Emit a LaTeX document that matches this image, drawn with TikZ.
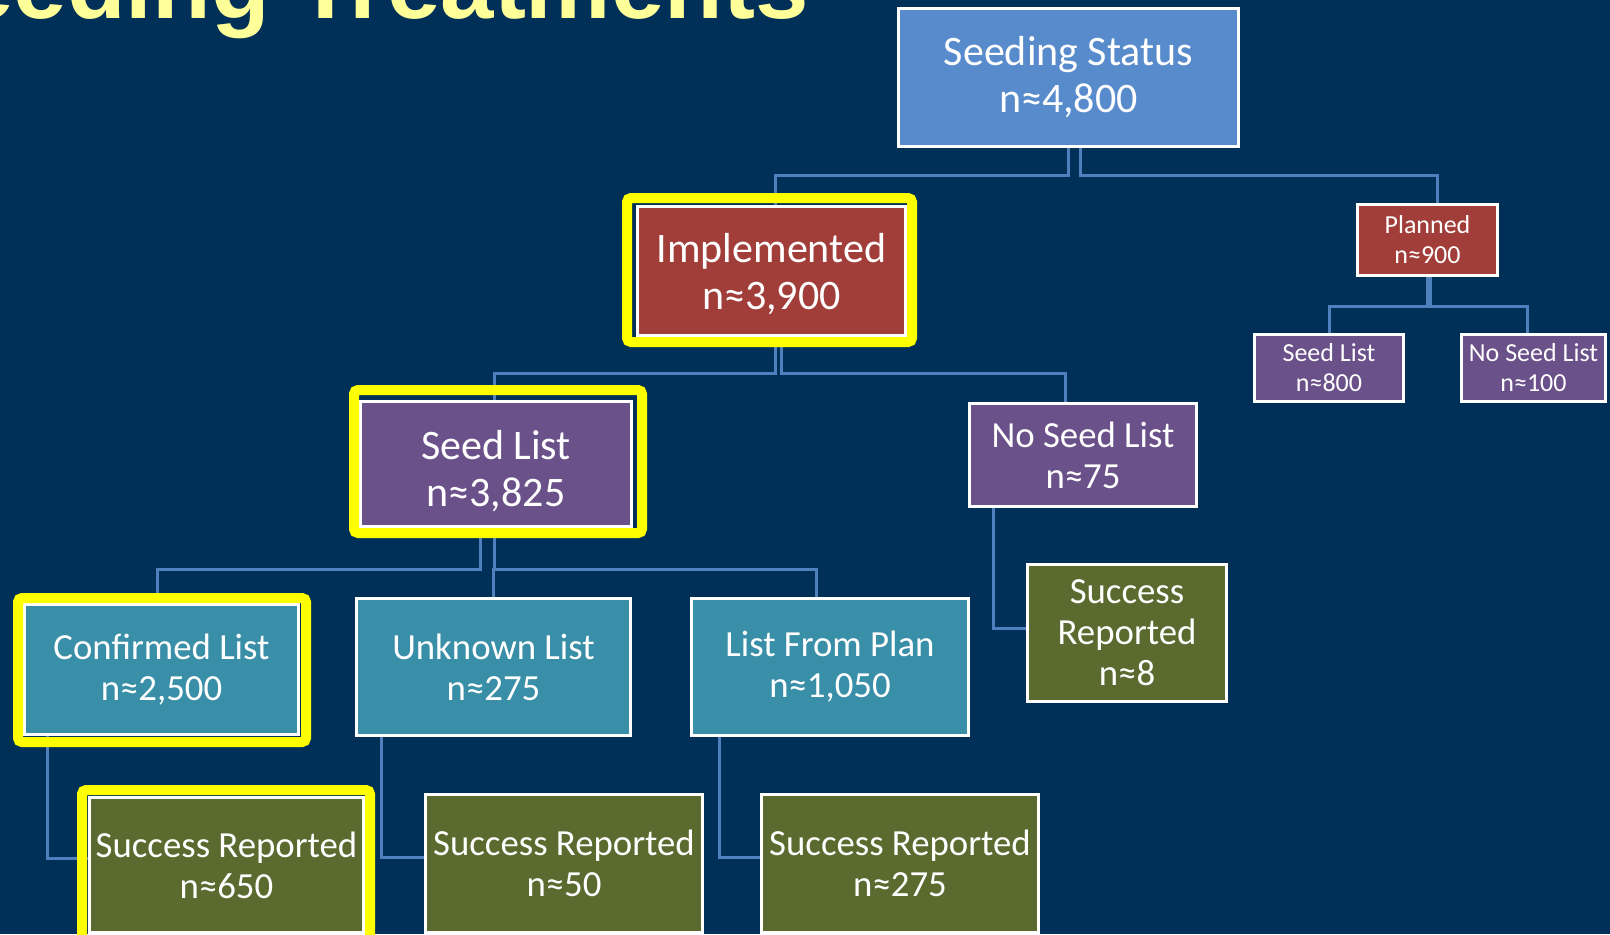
\documentclass[tikz,border=0pt]{standalone}
\usepackage{fontspec}
\newfontfamily\boxfont{Carlito}
\newfontfamily\titlefont{Liberation Sans}
\definecolor{navy}{RGB}{0,48,87}
\definecolor{topblue}{RGB}{88,139,203}
\definecolor{brick}{RGB}{162,62,58}
\definecolor{plum}{RGB}{107,81,137}
\definecolor{teal}{RGB}{58,143,168}
\definecolor{olive}{RGB}{91,107,47}
\definecolor{linkblue}{RGB}{78,128,190}
\definecolor{hiyellow}{RGB}{255,255,0}
\definecolor{titleyellow}{RGB}{255,255,153}
\tikzset{
	box/.style={draw=white,line width=1.5pt,text=white,align=center,inner sep=0pt},
	big/.style={box,font=\boxfont\fontsize{21}{23.5}\selectfont},
	mid/.style={box,font=\boxfont\fontsize{18.4}{20.5}\selectfont},
	small/.style={box,font=\boxfont\fontsize{13}{15}\selectfont},
	link/.style={draw=linkblue,line width=1.5pt},
	hilite/.style={draw=hiyellow,line width=5pt,rounded corners=2pt}
}
\begin{document}
\begin{tikzpicture}[x=0.5pt,y=-0.5pt]
	\useasboundingbox (0,0) rectangle (1610,934);
	\clip (0,0) rectangle (1610,934);
	\fill[navy] (0,0) rectangle (1610,934);
	\node (title) at (-104,18)[anchor=base west,inner sep=0pt,text=titleyellow,font=\titlefont\bfseries\fontsize{48}{52}\selectfont]{Seeding Treatments};
	\node (status) at (1068.5,77.5)[big,fill=topblue,minimum width=170pt,minimum height=69pt]{Seeding Status\\n≈4,800};
	\node (impl) at (771.5,271)[big,fill=brick,minimum width=134pt,minimum height=64.5pt]{\rule{0pt}{18pt}Implemented\\n≈3,900};
	\node (planned) at (1427.5,240)[small,fill=brick,minimum width=70pt,minimum height=35.5pt]{Planned\\n≈900};
	\node (pseed) at (1329,368)[small,fill=plum,minimum width=74.5pt,minimum height=33.5pt]{Seed List\\n≈800};
	\node (pnoseed) at (1533.5,368)[small,fill=plum,minimum width=72pt,minimum height=33.5pt]{No Seed List\\n≈100};
	\node (seed) at (496,464)[big,fill=plum,minimum width=135.5pt,minimum height=62.5pt]{\rule{0pt}{21.5pt}Seed List\\n≈3,825};
	\node (noseed) at (1083,455)[mid,fill=plum,minimum width=113.5pt,minimum height=51.5pt]{No Seed List\\n≈75};
	\node (conf) at (161.5,669.5)[mid,fill=teal,minimum width=137pt,minimum height=65pt]{Confirmed List\\n≈2,500};
	\node (unk) at (493.5,667)[mid,fill=teal,minimum width=137pt,minimum height=68.5pt]{Unknown List\\n≈275};
	\node (lfp) at (830,667)[mid,fill=teal,minimum width=138.5pt,minimum height=68.5pt]{List From Plan\\n≈1,050};
	\node (sconf) at (226.5,865)[mid,fill=olive,minimum width=137pt,minimum height=67.5pt]{Success Reported\\n≈650};
	\node (sunk) at (564,863.5)[mid,fill=olive,minimum width=138.5pt,minimum height=69pt]{Success Reported\\n≈50};
	\node (slfp) at (900,863.5)[mid,fill=olive,minimum width=138.5pt,minimum height=69pt]{Success Reported\\n≈275};
	\node (snoseed) at (1127,633)[mid,fill=olive,minimum width=99.5pt,minimum height=68.5pt]{Success\\Reported\\n≈8};
	\draw[link] (status.south) -- ++(0,27) -| ([xshift=2pt]impl.north);
	\draw[link] ([xshift=6pt]status.south) -- ++(0,27) -| ([xshift=4.75pt]planned.north);
	\draw[link] ([xshift=2pt]impl.south) -- ++(0,36) -| ([xshift=-1pt]seed.north);
	\draw[link] ([xshift=5pt]impl.south) -- ++(0,36) -| ([xshift=-9pt]noseed.north);
	\draw[link] (planned.south) -- ++(0,29.5) -| (pseed.north);
	\draw[link] ([xshift=1.5pt]planned.south) -- ++(0,29.5) -| ([xshift=-3pt]pnoseed.north);
	\draw[link] ([xshift=-8pt]seed.south) -- ++(0,41) -| ([xshift=-2pt]conf.north);
	\draw[link] ([xshift=-1pt]seed.south) -- ++(0,41) -| (unk.north);
	\draw[link] ([xshift=-1pt]seed.south) -- ++(0,41) -| ([xshift=-7pt]lfp.north);
	\draw[link] ([xshift=-45pt]noseed.south) |- ([yshift=2.5pt]snoseed.west);
	\draw[link] ([xshift=-57pt]conf.south) |- ([yshift=3.5pt]sconf.west);
	\draw[link] ([xshift=-56pt]unk.south) |- ([yshift=3pt]sunk.west);
	\draw[link] ([xshift=-55.5pt]lfp.south) |- ([yshift=3pt]slfp.west);
	\draw[hilite] ([shift={(-4.5pt,3.5pt)}]impl.north west) rectangle ([shift={(2.5pt,-2.5pt)}]impl.south east);
	\draw[hilite] ([shift={(-2.5pt,5pt)}]seed.north west) rectangle ([shift={(4.5pt,-2.5pt)}]seed.south east);
	\draw[hilite] ([shift={(-2.5pt,2.5pt)}]conf.north west) rectangle ([shift={(3pt,-3pt)}]conf.south east);
	\draw[hilite] ([shift={(-3pt,3pt)}]sconf.north west) rectangle ([shift={(2.5pt,-3pt)}]sconf.south east);
\end{tikzpicture}
\end{document}
